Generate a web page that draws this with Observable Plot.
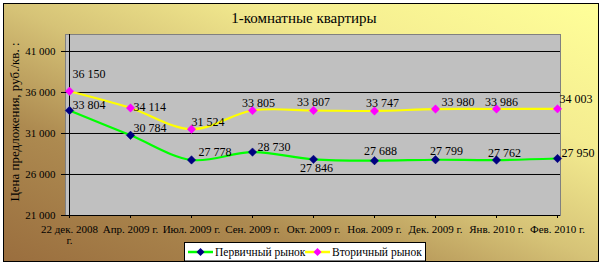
<!DOCTYPE html>
<html><head><meta charset="utf-8">
<script src="https://cdn.jsdelivr.net/npm/d3@7"></script>
<script src="https://cdn.jsdelivr.net/npm/@observablehq/plot@0.6"></script>
<style>
body{margin:0;background:#fff;}
#wrap{position:relative;width:605px;height:269px;overflow:hidden;font-family:'Liberation Serif',serif;}
#bg{position:absolute;left:3px;top:3px;width:594px;height:257px;border:1.5px solid #000;
 background:linear-gradient(to top right,#9a6e3e 0%,#ad8a50 28%,#d6c377 50%,#f4ec90 72%,#ffff99 100%);}
#title{position:absolute;left:0;width:608px;top:10px;text-align:center;font-size:15px;color:#000;}
#ylab{position:absolute;left:15px;top:122px;transform:translate(-50%,-50%) rotate(-90deg);white-space:nowrap;font-size:13px;color:#000;}
#chart{position:absolute;left:0;top:0;}
#chart svg, #chart svg text{font-family:'Liberation Serif',serif !important;}
#legend{position:absolute;left:184px;top:242px;overflow:visible;}
#legend text{font-family:'Liberation Serif',serif;}
</style></head>
<body><div id="wrap"><div id="bg"></div><div id="title"></div><div id="ylab"></div><div id="chart"></div><svg id="legend" width="260" height="20"></svg></div>
<script>
const title = "1-комнатные квартиры";
const yTitle = "Цена предложения, руб./кв. :";
const cats = ["22 дек. 2008 г.","Апр. 2009 г.","Июл. 2009 г.","Сен. 2009 г.","Окт. 2009 г.","Ноя. 2009 г.","Дек. 2009 г.","Янв. 2010 г.","Фев. 2010 г."];
const primary = [33804,30784,27778,28730,27846,27688,27799,27762,27950];
const secondary = [36150,34114,31524,33805,33807,33747,33980,33986,34003];
const yTicks = [21000,26000,31000,36000,41000];
const seriesNames = ["Первичный рынок","Вторичный рынок"];

document.getElementById("title").textContent = title;
document.getElementById("ylab").textContent = yTitle;

const fmt = d => d3.format(",")(d).replace(/,/g," ");
const rowsP = cats.map((c,i)=>({cat:c, v:primary[i], i}));
const rowsS = cats.map((c,i)=>({cat:c, v:secondary[i], i}));

// label placement (code-side styling)
const placeS = [["start",3,-17],["start",3,-1],["start",0,-7],["middle",6,-7],["middle",0,-8],["middle",8,-8],["start",6,-7],["middle",5,-7],["start",2,-10]];
const placeP = [["start",3,-5],["start",3,-7],["start",7,-8],["start",5,-5],["middle",3,9],["middle",6,-10],["middle",11,-9],["middle",8,-7],["start",4,-5]];

const labelMarks = [];
[[rowsS,placeS],[rowsP,placeP]].forEach(([rows,place])=>{
  rows.forEach((r,i)=>{
    const [a,dx,dy]=place[i];
    labelMarks.push(Plot.text([r],{x:"cat",y:"v",text:d=>fmt(d.v),textAnchor:a,dx,dy,fontSize:12,fill:"#000"}));
  });
});

const plot = Plot.plot({
  width:605, height:269,
  marginLeft:65, marginRight:45, marginTop:34, marginBottom:54,
  style:{background:"transparent", color:"#000", overflow:"visible"},
  x:{type:"point", domain:cats, padding:0},
  y:{domain:[21000,43073]},
  marks:[
    Plot.frame({fill:"#C0C0C0", stroke:"#808080"}),
    Plot.ruleY(yTicks.filter(d=>d>yTicks[0]),{stroke:"#000", strokeWidth:1}),
    Plot.ruleY([yTicks[0]],{stroke:"#000"}),
    Plot.ruleX([cats[0]],{stroke:"#000"}),
    Plot.axisY({ticks:yTicks, tickSize:4, tickPadding:6, tickFormat:fmt, fontSize:11, label:null}),
    Plot.axisX({tickSize:3, tickPadding:7, fontSize:11, label:null,
      tickFormat:d=> d.length>12 ? d.replace(/ (\S+)$/,"\n$1") : d}),
    Plot.line(rowsS,{x:"cat",y:"v",stroke:"#FFFF00",strokeWidth:2.2,curve:"catmull-rom"}),
    Plot.line(rowsP,{x:"cat",y:"v",stroke:"#00FF00",strokeWidth:2.2,curve:"catmull-rom"}),
    Plot.dot(rowsS,{x:"cat",y:"v",symbol:"diamond2",r:3.8,fill:"#FF00FF",stroke:"#FF00FF",strokeWidth:0.5}),
    Plot.dot(rowsP,{x:"cat",y:"v",symbol:"diamond2",r:3.8,fill:"#000080",stroke:"#000080",strokeWidth:0.5}),
    ...labelMarks
  ]
});
document.getElementById("chart").appendChild(plot);

// legend
const lg = d3.select("#legend");
lg.append("rect").attr("x",0.5).attr("y",0.5).attr("width",241).attr("height",18.5).attr("fill","#fff").attr("stroke","#000");
const items = [{name:seriesNames[0],line:"#00FF00",mark:"#000080",x0:4},{name:seriesNames[1],line:"#FFFF00",mark:"#FF00FF",x0:121}];
items.forEach(it=>{
  lg.append("line").attr("x1",it.x0).attr("x2",it.x0+25).attr("y1",10).attr("y2",10).attr("stroke",it.line).attr("stroke-width",2.5);
  lg.append("path").attr("d",`M${it.x0+12.5},6 L${it.x0+16.5},10 L${it.x0+12.5},14 L${it.x0+8.5},10 Z`).attr("fill",it.mark);
  lg.append("text").attr("x",it.x0+27).attr("y",14).attr("font-size",11.5).attr("fill","#000").text(it.name);
});
</script></body></html>
